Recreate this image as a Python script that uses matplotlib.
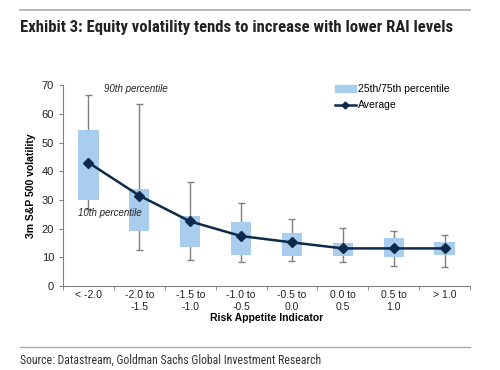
import matplotlib.pyplot as plt
from matplotlib.patches import Patch
from matplotlib.lines import Line2D

categories = ['< -2.0', '-2.0 to\n-1.5', '-1.5 to\n-1.0', '-1.0 to\n-0.5',
              '-0.5 to\n0.0', '0.0 to\n0.5', '0.5 to\n1.0', '> 1.0']
p10 = [27.0, 12.6, 9.1, 8.3, 8.6, 8.3, 7.1, 6.5]
p25 = [29.8, 19.3, 13.7, 10.9, 10.6, 10.3, 10.0, 10.8]
p75 = [54.2, 33.8, 24.5, 22.2, 18.5, 15.0, 16.6, 15.2]
p90 = [66.7, 63.5, 36.2, 28.8, 23.4, 20.2, 19.0, 17.6]
average = [43.0, 31.5, 22.5, 17.4, 15.2, 13.1, 13.1, 13.1]

box_color = '#a9cdec'
line_color = '#0d2a4a'
grey = '#808080'
narrow = ['Roboto Condensed', 'Liberation Sans', 'DejaVu Sans']

plt.rcParams['font.family'] = ['Liberation Sans', 'DejaVu Sans']

fig = plt.figure(figsize=(5, 3.7), dpi=100)
ax = fig.add_axes([0.126, 0.227, 0.814, 0.543])

x = list(range(len(categories)))

# whiskers (10th/90th) behind the boxes
ax.vlines(x, p10, p90, color=grey, lw=1, zorder=1)
ax.hlines(p10, [i - 0.07 for i in x], [i + 0.07 for i in x], color=grey, lw=1, zorder=1)
ax.hlines(p90, [i - 0.07 for i in x], [i + 0.07 for i in x], color=grey, lw=1, zorder=1)

heights = [hi - lo for lo, hi in zip(p25, p75)]
ax.bar(x, heights, bottom=p25, width=0.4, color=box_color, zorder=2)

ax.plot(x, average, color=line_color, lw=1.8, marker='D', markersize=5, zorder=3)

ax.set_xlim(-0.5, len(categories) - 0.5)
ax.set_ylim(0, 70)
ax.set_yticks(range(0, 80, 10))
ax.set_xticks(x)
ax.set_xticklabels(categories, fontsize=7.5, color='#222222')
ax.set_xticks([i + 0.5 for i in range(-1, len(categories))], minor=True)
ax.tick_params(axis='x', which='major', length=0, pad=3)
ax.tick_params(axis='x', which='minor', length=3, color=grey)
ax.tick_params(axis='y', labelsize=8, length=3, color=grey, labelcolor='#222222')

for side in ['top', 'right']:
    ax.spines[side].set_visible(False)
for side in ['left', 'bottom']:
    ax.spines[side].set_color(grey)
    ax.spines[side].set_linewidth(0.8)

ax.set_ylabel('3m S&P 500 volatility', fontsize=7.5, fontweight='bold', labelpad=4)
ax.set_xlabel('Risk Appetite Indicator', fontsize=7.5, fontweight='bold', labelpad=1)

ax.text(0.3, 67.5, '90th percentile', fontsize=7, style='italic', color='#222222')
ax.text(-0.2, 24.5, '10th percentile', fontsize=7, style='italic', color='#222222')

handles = [Patch(color=box_color, label='25th/75th percentile'),
           Line2D([0], [0], color=line_color, lw=1.8, marker='D', markersize=3.5, label='Average')]
ax.legend(handles=handles, loc='upper left', bbox_to_anchor=(0.645, 1.05), frameon=False,
          fontsize=7.5, handlelength=2.0, handletextpad=0.2, labelspacing=0.55)

# header / footer
fig.add_artist(Line2D([0.04, 0.94], [0.972, 0.972], color='#aaaaaa', lw=1.2))
fig.text(0.04, 0.925, 'Exhibit 3: Equity volatility tends to increase with lower RAI levels',
         fontsize=12, fontweight='bold', family=narrow, color='#222222', va='center')
fig.add_artist(Line2D([0.04, 0.94], [0.062, 0.062], color='#aaaaaa', lw=1.0))
fig.text(0.04, 0.027, 'Source: Datastream, Goldman Sachs Global Investment Research',
         fontsize=8.5, family=narrow, color='#333333', va='center')

fig.savefig('out.png', dpi=100)
